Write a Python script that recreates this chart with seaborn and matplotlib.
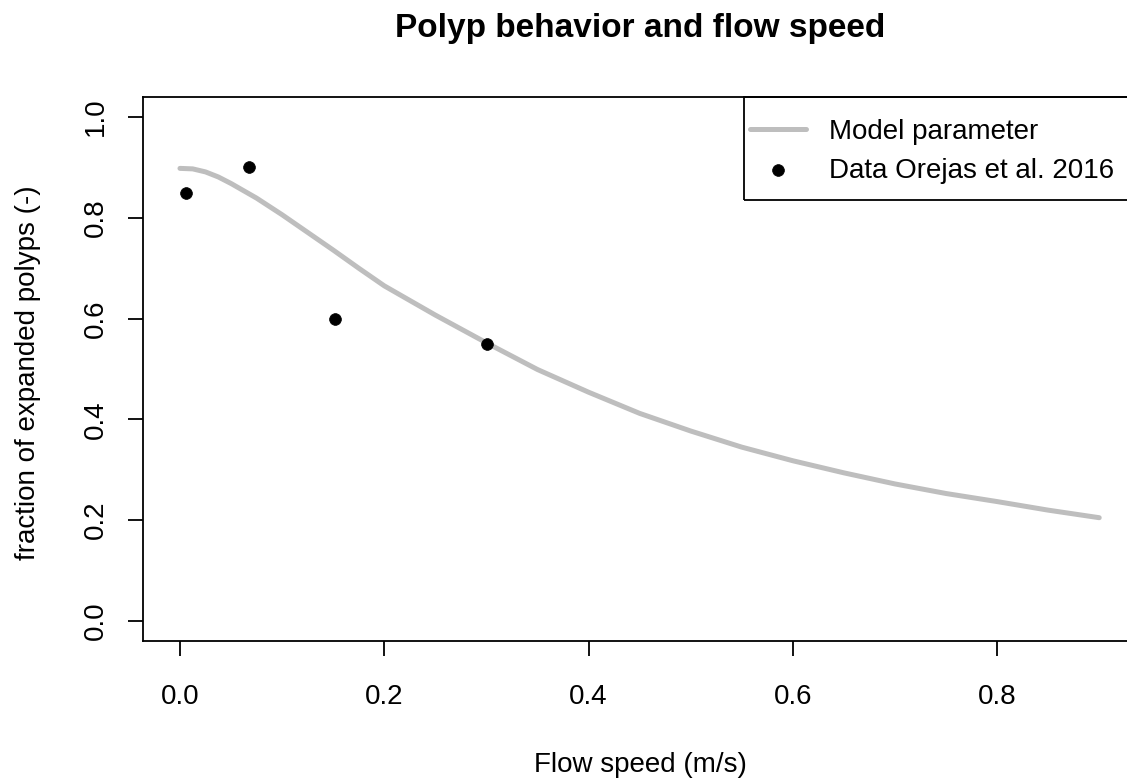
import matplotlib
matplotlib.use("Agg")
import matplotlib.pyplot as plt
from matplotlib.patches import Rectangle
import seaborn as sns
import pandas as pd

# Model curve
model_x = [0.0, 0.0125, 0.025, 0.0375, 0.05, 0.075, 0.10, 0.125, 0.15, 0.175, 0.20, 0.25, 0.30,
           0.35, 0.40, 0.45, 0.50, 0.55, 0.60, 0.65, 0.70, 0.75, 0.80, 0.85, 0.90]
model_y = [0.898, 0.897, 0.891, 0.881, 0.868, 0.839, 0.806, 0.771, 0.736, 0.700, 0.665, 0.607,
           0.552, 0.499, 0.454, 0.412, 0.377, 0.345, 0.318, 0.294, 0.272, 0.253, 0.237, 0.220, 0.205]

# Observed data
data_x = [0.006, 0.068, 0.152, 0.301]
data_y = [0.85, 0.90, 0.60, 0.55]

x_ticks = [0.0, 0.2, 0.4, 0.6, 0.8]
x_tick_labels = ["0.0", "0.2", "0.4", "0.6", "0.8"]
y_ticks = [0.0, 0.2, 0.4, 0.6, 0.8, 1.0]
y_tick_labels = ["0.0", "0.2", "0.4", "0.6", "0.8", "1.0"]

sns.set_theme(style="white")
plt.rcParams["font.family"] = ["Liberation Sans", "DejaVu Sans"]
plt.rcParams["text.color"] = "black"

W, H = 1127, 779
fig = plt.figure(figsize=(W / 100, H / 100), dpi=100)
left_px, right_px, top_px, bottom_px = 143.2, 1136.0, 96.8, 641.2
ax = fig.add_axes([left_px / W, 1 - bottom_px / H, (right_px - left_px) / W, (bottom_px - top_px) / H])

model_df = pd.DataFrame({"x": model_x, "y": model_y})
data_df = pd.DataFrame({"x": data_x, "y": data_y})

sns.lineplot(data=model_df, x="x", y="y", ax=ax, color="#BEBEBE", linewidth=3.6,
             label="Model parameter", solid_capstyle="round")
sns.scatterplot(data=data_df, x="x", y="y", ax=ax, color="black", s=72, edgecolor="black",
                linewidth=0.5, label="Data Orejas et al. 2016", zorder=3)

ax.set_xlim(-0.036, 0.936)
ax.set_ylim(-0.04, 1.04)
ax.set_xticks(x_ticks)
ax.set_xticklabels(x_tick_labels)
ax.set_yticks(y_ticks)
ax.set_yticklabels(y_tick_labels, rotation=90, va="center")

for s in ax.spines.values():
    s.set_color("black")
    s.set_linewidth(1.3)

ax.tick_params(axis="both", which="both", direction="out", length=11, width=1.3,
               color="black", labelsize=20, labelcolor="black", left=True, bottom=True)
ax.tick_params(axis="x", pad=20)
ax.tick_params(axis="y", pad=14)

ax.set_xlabel("Flow speed (m/s)", fontsize=20, color="black")
ax.set_ylabel("fraction of expanded polyps (-)", fontsize=20, color="black")
ax.xaxis.set_label_coords((640 - left_px) / (right_px - left_px), -(765 - bottom_px) / (bottom_px - top_px))
ax.yaxis.set_label_coords(-(left_px - 28) / (right_px - left_px), (bottom_px - 373) / (bottom_px - top_px))
ax.xaxis.label.set_va("center")
ax.yaxis.label.set_va("center")

fig.text(640 / W, 1 - 29 / H, "Polyp behavior and flow speed", fontsize=24, fontweight="bold",
         ha="center", va="center", color="black")

# legend entries without frame, box drawn separately to match R's padding
leg = ax.legend(loc="upper left", bbox_to_anchor=(750 / W, 1 - 119 / H), bbox_transform=fig.transFigure,
                frameon=False, fontsize=20, borderaxespad=0, borderpad=0, handlelength=2.0,
                handletextpad=0.85, labelspacing=0.45)
for t in leg.get_texts():
    t.set_color("black")

box = Rectangle((744 / W, 1 - 200 / H), (1140 - 744) / W, (200 - 97) / H, transform=fig.transFigure,
                fill=False, edgecolor="black", linewidth=1.3, zorder=5)
fig.patches.append(box)

fig.savefig("out.png", dpi=100)
